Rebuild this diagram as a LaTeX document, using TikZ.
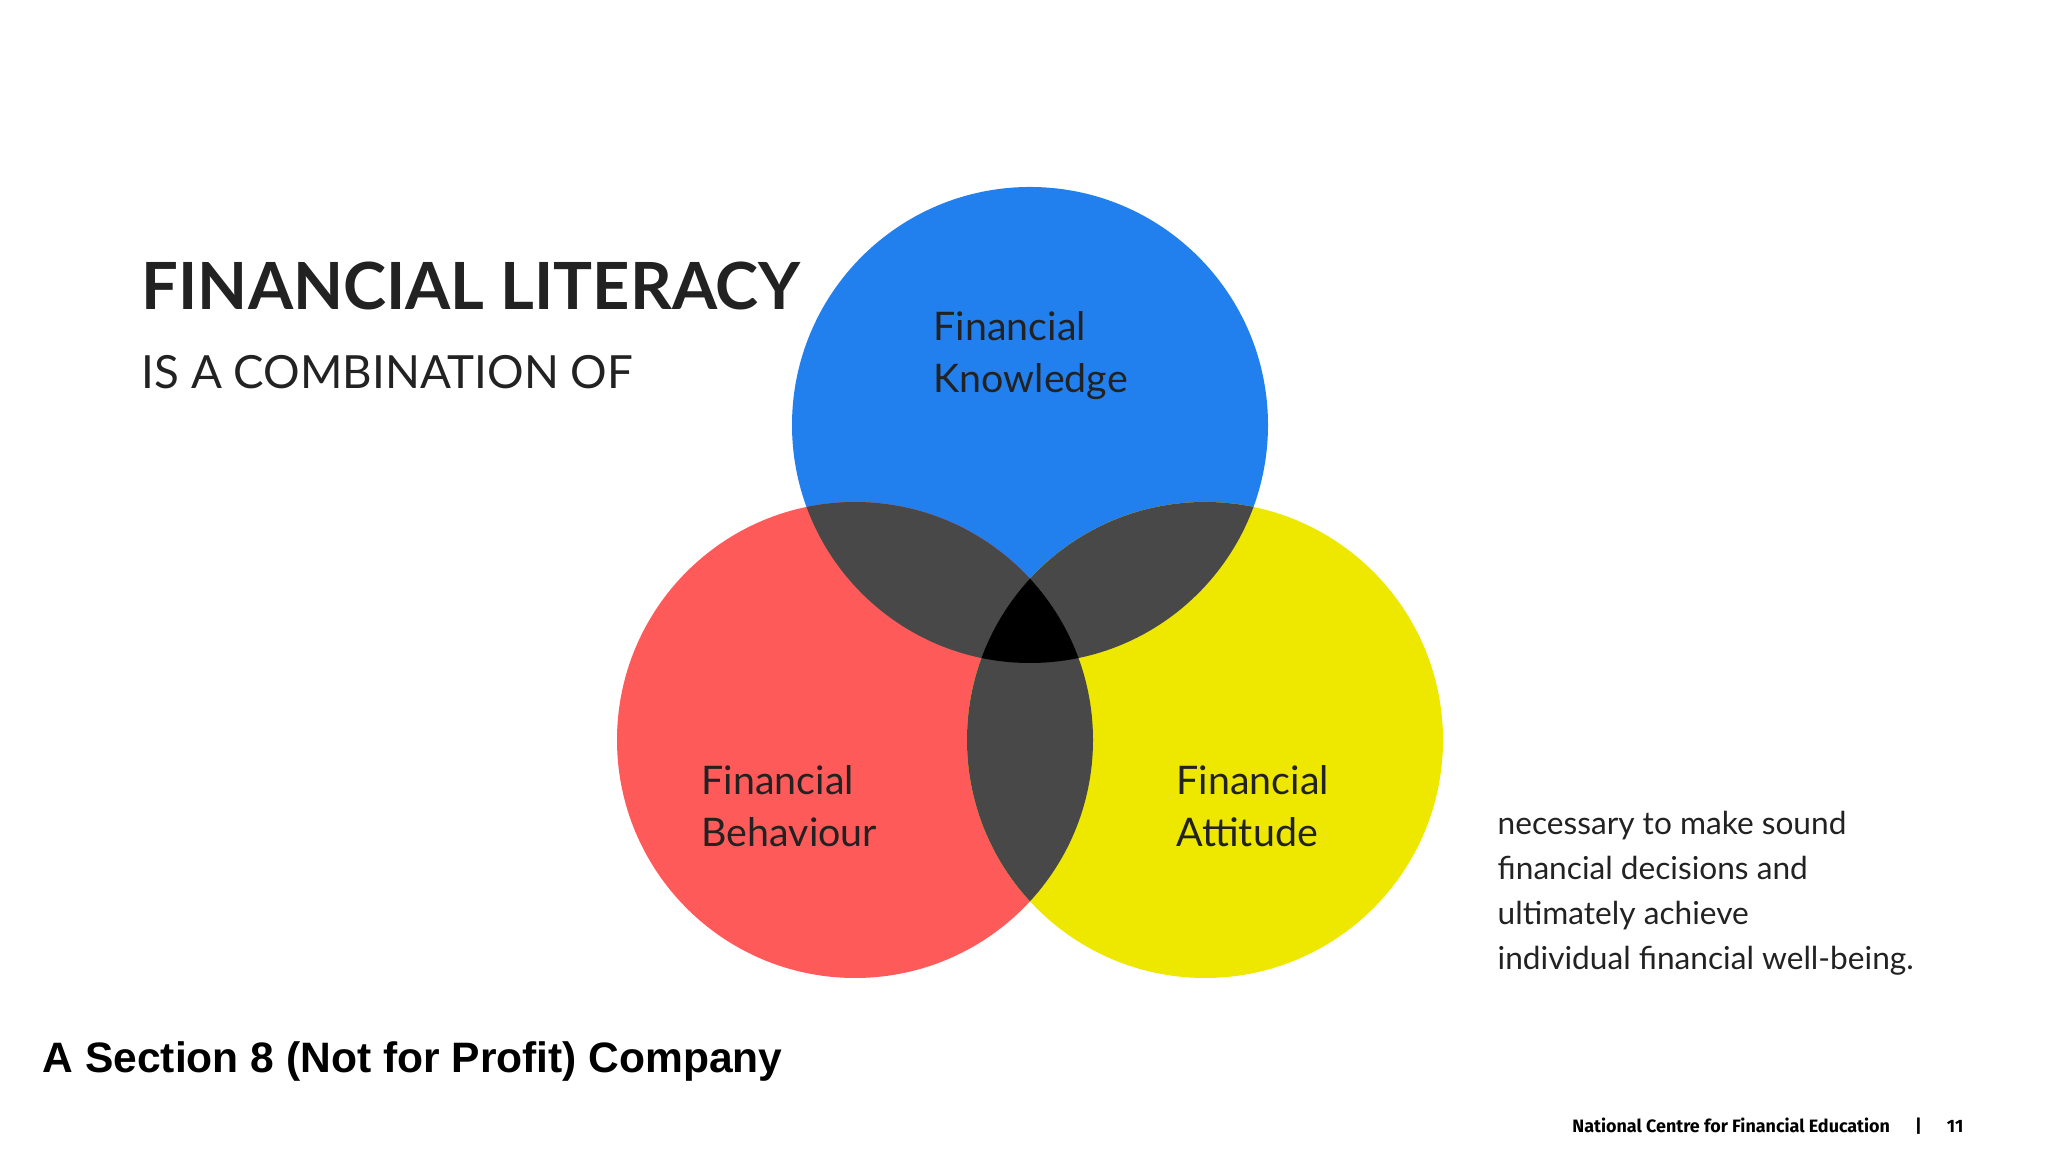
\documentclass[tikz,border=0pt]{standalone}
\usepackage{fontspec}
\setmainfont{Lato}
\newfontfamily\arialf{Liberation Sans}
\newfontfamily\footf{Fira Sans}
\definecolor{cblue}{HTML}{2280EE}
\definecolor{cred}{HTML}{FF5A5A}
\definecolor{cyel}{HTML}{EEE800}
\definecolor{cgray}{HTML}{484848}
\definecolor{ctext}{HTML}{222222}
\begin{document}
\begin{tikzpicture}[x=0.01cm,y=0.01cm,
  lbl/.style={anchor=base west,inner sep=0pt,align=left,text=ctext}]
\useasboundingbox (0,0) rectangle (2048,1152);
\fill[white] (0,0) rectangle (2048,1152);
\def\R{238}
\coordinate (B) at (1030,727);
\coordinate (Rc) at (855,412);
\coordinate (Y) at (1205,412);
\fill[cblue] (B) circle (\R);
\fill[cred] (Rc) circle (\R);
\fill[cyel] (Y) circle (\R);
\begin{scope}\clip (B) circle (\R); \fill[cgray] (Rc) circle (\R);\end{scope}
\begin{scope}\clip (B) circle (\R); \fill[cgray] (Y) circle (\R);\end{scope}
\begin{scope}\clip (Rc) circle (\R); \fill[cgray] (Y) circle (\R);\end{scope}
\begin{scope}\clip (B) circle (\R); \clip (Rc) circle (\R); \fill[black] (Y) circle (\R);\end{scope}
\node[lbl,font=\bfseries\fontsize{18.5}{22}\selectfont] (t1) at (141,842) {FINANCIAL LITERACY};
\node[lbl,font=\fontsize{13}{16}\selectfont] (t2) at (141,763) {IS A COMBINATION OF};
\node[lbl,font=\fontsize{11.2}{15}\selectfont] (k) at (933,759) {Financial\\Knowledge};
\node[lbl,font=\fontsize{11.2}{15}\selectfont] (b) at (701,305) {Financial\\Behaviour};
\node[lbl,font=\fontsize{11.2}{15}\selectfont] (a) at (1176,305) {Financial\\Attitude};
\node[lbl,font=\fontsize{9}{12.8}\selectfont] (r) at (1497,182) {necessary to make sound\\financial decisions and\\ultimately achieve\\individual financial well-being.};
\node[lbl,text=black,font=\arialf\bfseries\fontsize{12.1}{15}\selectfont] (s) at (42,79) {A Section 8 (Not for Profit) Company};
\node[anchor=base east,inner sep=0pt,font=\footf\bfseries\fontsize{5.1}{7}\selectfont] (f) at (1964,19) {National Centre for Financial Education\hspace{1.4em}|\hspace{1.4em}11};
\end{tikzpicture}
\end{document}
